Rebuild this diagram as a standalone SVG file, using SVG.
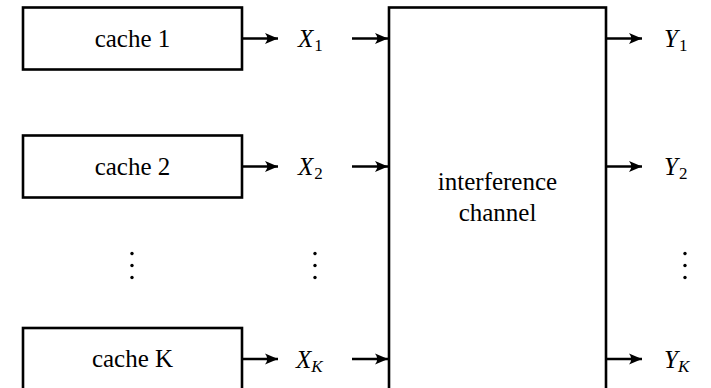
<svg xmlns="http://www.w3.org/2000/svg" width="711" height="388" viewBox="0 0 711 388">
  <style>
    .box { fill: #fff; stroke: #000; stroke-width: 2.6; }
    .wire { stroke: #000; stroke-width: 2.6; fill: none; marker-end: url(#tip); }
    .dot { fill: #000; }
  </style>
  <defs>
    <marker id="tip" markerUnits="userSpaceOnUse" markerWidth="16" markerHeight="14" viewBox="-14 -7 16 14" refX="0" refY="0" orient="auto">
      <path d="M0,0 L-13,-5.5 Q-8.5,0 -13,5.5 Z" fill="#000"/>
    </marker>
  </defs>

  <!-- cache nodes -->
  <g id="cache1">
    <rect class="box" x="23" y="7.5" width="219" height="62"/>
    <text x="132.5" y="46.5" font-family="Liberation Serif" font-size="25" text-anchor="middle">cache 1</text>
  </g>
  <g id="cache2">
    <rect class="box" x="23" y="135.5" width="219" height="62"/>
    <text x="132.5" y="174.5" font-family="Liberation Serif" font-size="25" text-anchor="middle">cache 2</text>
  </g>
  <g id="cacheK">
    <rect class="box" x="23" y="328" width="219" height="64"/>
    <text x="132.5" y="367" font-family="Liberation Serif" font-size="25" text-anchor="middle">cache K</text>
  </g>

  <!-- channel node -->
  <g id="channel">
    <rect class="box" x="389" y="7.5" width="217" height="385"/>
    <text x="497.5" y="189.5" font-family="Liberation Serif" font-size="25" text-anchor="middle">interference</text>
    <text x="497.5" y="220.5" font-family="Liberation Serif" font-size="25" text-anchor="middle">channel</text>
  </g>

  <!-- signal labels: italic symbol with a smaller subscript -->
  <g id="x1"><text x="298" y="47" font-family="Liberation Serif" font-size="25" font-style="italic">X<tspan font-size="17" font-style="normal" dx="1" dy="4">1</tspan></text></g>
  <g id="x2"><text x="298" y="175" font-family="Liberation Serif" font-size="25" font-style="italic">X<tspan font-size="17" font-style="normal" dx="1" dy="4">2</tspan></text></g>
  <g id="xK"><text x="296" y="367.5" font-family="Liberation Serif" font-size="25" font-style="italic">X<tspan font-size="17" dy="4">K</tspan></text></g>
  <g id="y1"><text x="664" y="47" font-family="Liberation Serif" font-size="25" font-style="italic">Y<tspan font-size="17" font-style="normal" dx="1" dy="4">1</tspan></text></g>
  <g id="y2"><text x="664" y="175" font-family="Liberation Serif" font-size="25" font-style="italic">Y<tspan font-size="17" font-style="normal" dx="1" dy="4">2</tspan></text></g>
  <g id="yK"><text x="664" y="367.5" font-family="Liberation Serif" font-size="25" font-style="italic">Y<tspan font-size="17" dy="4">K</tspan></text></g>

  <!-- vertical ellipses -->
  <g id="dots">
    <circle class="dot" cx="132" cy="253.5" r="1.7"/>
    <circle class="dot" cx="132" cy="265.5" r="1.7"/>
    <circle class="dot" cx="132" cy="277.5" r="1.7"/>
    <circle class="dot" cx="315" cy="253.5" r="1.7"/>
    <circle class="dot" cx="315" cy="265.5" r="1.7"/>
    <circle class="dot" cx="315" cy="277.5" r="1.7"/>
    <circle class="dot" cx="685" cy="253.5" r="1.7"/>
    <circle class="dot" cx="685" cy="265.5" r="1.7"/>
    <circle class="dot" cx="685" cy="277.5" r="1.7"/>
  </g>

  <!-- connectors -->
  <g id="connectors">
    <line class="wire" x1="243" y1="38.5" x2="278" y2="38.5"/>
    <line class="wire" x1="243" y1="166.5" x2="278" y2="166.5"/>
    <line class="wire" x1="243" y1="359" x2="278" y2="359"/>
    <line class="wire" x1="352" y1="38.5" x2="388" y2="38.5"/>
    <line class="wire" x1="352" y1="166.5" x2="388" y2="166.5"/>
    <line class="wire" x1="352" y1="359" x2="388" y2="359"/>
    <line class="wire" x1="607" y1="38.5" x2="642" y2="38.5"/>
    <line class="wire" x1="607" y1="166.5" x2="642" y2="166.5"/>
    <line class="wire" x1="607" y1="359" x2="642" y2="359"/>
  </g>
</svg>
